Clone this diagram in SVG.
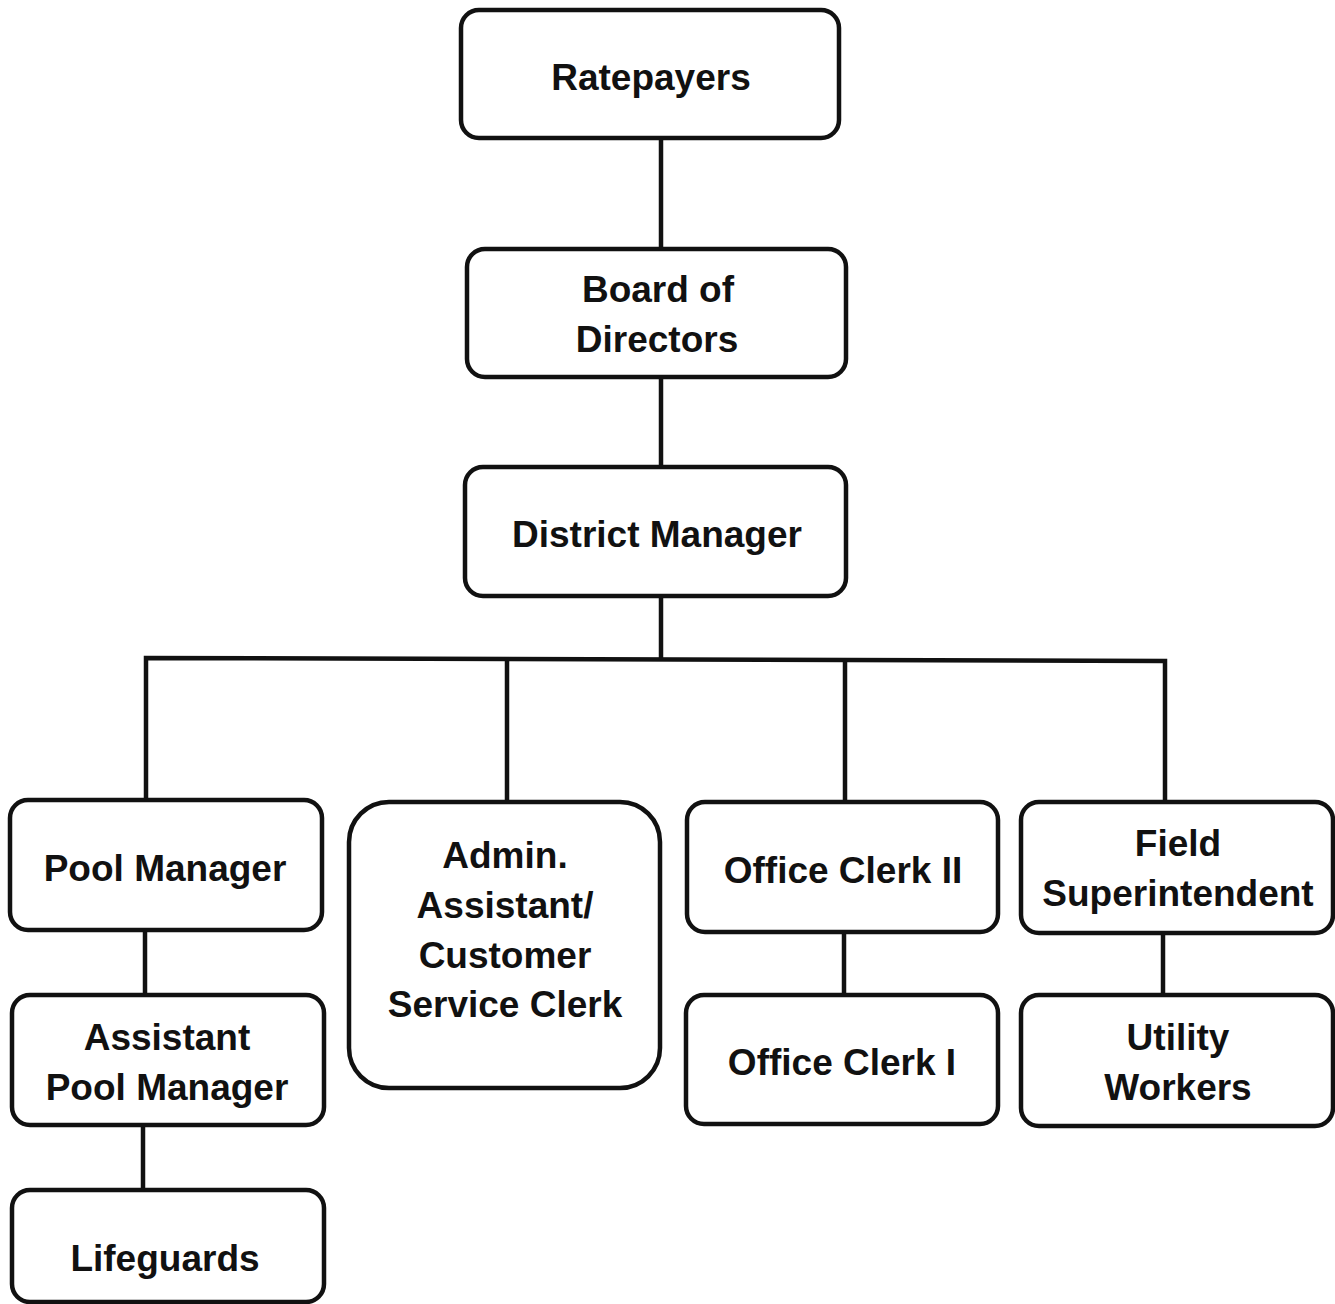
<svg xmlns="http://www.w3.org/2000/svg" width="1335" height="1304" viewBox="0 0 1335 1304">
<style>
.box{fill:#fff;stroke:#111;stroke-width:4.5}
.ln{stroke:#111;stroke-width:4.5;fill:none}
text{font-family:"Liberation Sans",Arial,sans-serif;font-weight:bold;font-size:37px;fill:#111;text-anchor:middle}
</style>
<rect width="1335" height="1304" fill="#fff"/>
<g id="connectors">
<line class="ln" x1="661" y1="138" x2="661" y2="249"/>
<line class="ln" x1="661" y1="377" x2="661" y2="467"/>
<line class="ln" x1="661" y1="596" x2="661" y2="659"/>
<path class="ln" d="M146 800 V658 L1165 661 V803"/>
<line class="ln" x1="507" y1="659" x2="507" y2="802"/>
<line class="ln" x1="845" y1="660" x2="845" y2="802"/>
<line class="ln" x1="145" y1="930" x2="145" y2="995"/>
<line class="ln" x1="143" y1="1125" x2="143" y2="1190"/>
<line class="ln" x1="844" y1="932" x2="844" y2="995"/>
<line class="ln" x1="1163" y1="933" x2="1163" y2="995"/>
</g>
<g id="ratepayers"><rect class="box" x="461" y="10" width="378" height="128" rx="18"/><text x="651" y="90">Ratepayers</text></g>
<g id="board"><rect class="box" x="467" y="249" width="379" height="128" rx="18"/><text x="658" y="302">Board of</text><text x="657" y="352">Directors</text></g>
<g id="district-manager"><rect class="box" x="465" y="467" width="381" height="129" rx="18"/><text x="657" y="547">District Manager</text></g>
<g id="pool-manager"><rect class="box" x="10" y="800" width="312" height="130" rx="18"/><text x="165" y="881">Pool Manager</text></g>
<g id="admin"><rect class="box" x="349" y="802" width="311" height="286" rx="40"/><text x="505" y="868">Admin.</text><text x="505" y="918">Assistant/</text><text x="505" y="968">Customer</text><text x="505" y="1017">Service Clerk</text></g>
<g id="office-clerk-ii"><rect class="box" x="687" y="802" width="311" height="130" rx="18"/><text x="843" y="883">Office Clerk II</text></g>
<g id="field-superintendent"><rect class="box" x="1021" y="802" width="312" height="131" rx="18"/><text x="1178" y="856">Field</text><text x="1178" y="906">Superintendent</text></g>
<g id="assistant-pool-manager"><rect class="box" x="12" y="995" width="312" height="130" rx="18"/><text x="167" y="1050">Assistant</text><text x="167" y="1100">Pool Manager</text></g>
<g id="office-clerk-i"><rect class="box" x="686" y="995" width="312" height="129" rx="18"/><text x="842" y="1075">Office Clerk I</text></g>
<g id="utility-workers"><rect class="box" x="1021" y="995" width="312" height="131" rx="18"/><text x="1178" y="1050">Utility</text><text x="1178" y="1100">Workers</text></g>
<g id="lifeguards"><rect class="box" x="12" y="1190" width="312" height="112" rx="18"/><text x="165" y="1271">Lifeguards</text></g>
</svg>
